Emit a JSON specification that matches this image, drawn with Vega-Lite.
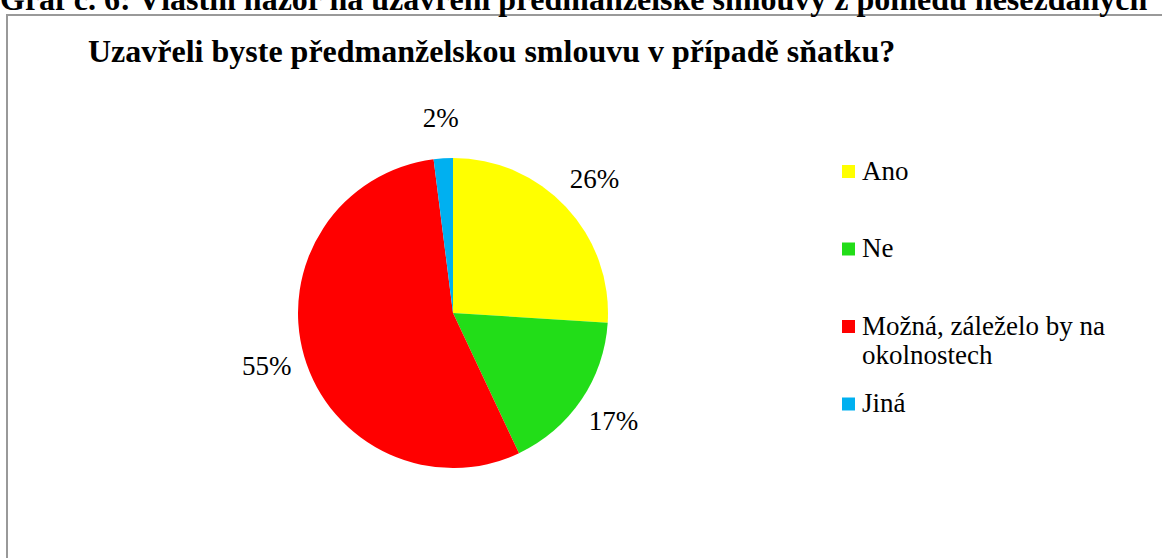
{
  "$schema": "https://vega.github.io/schema/vega-lite/v6.json",
  "padding": {"left": 0, "top": -16, "right": -6, "bottom": -5},
  "background": "white",
  "title": {
    "text": "Graf č. 6: Vlastní názor na uzavření předmanželské smlouvy z pohledu nesezdaných",
    "anchor": "start",
    "frame": "group",
    "dx": -7,
    "offset": -3,
    "font": "Liberation Serif",
    "fontSize": 32,
    "fontWeight": "bold",
    "color": "black",
    "limit": 3000
  },
  "data": {
    "values": [
      {"odpoved": "Ano", "podil": 0.26, "poradi": 1},
      {"odpoved": "Ne", "podil": 0.17, "poradi": 2},
      {"odpoved": "Možná, záleželo by na okolnostech", "podil": 0.55, "poradi": 3},
      {"odpoved": "Jiná", "podil": 0.02, "poradi": 4}
    ]
  },
  "vconcat": [
    {
      "title": {
        "text": "Uzavřeli byste předmanželskou smlouvu v případě sňatku?",
        "anchor": "start",
        "frame": "group",
        "dx": 81,
        "offset": -54,
        "font": "Liberation Serif",
        "fontSize": 32,
        "fontWeight": "bold",
        "color": "black",
        "limit": 3000
      },
      "width": 1160,
      "height": 548,
      "view": {"stroke": "#999999", "strokeWidth": 2, "fill": "white"},
      "encoding": {
        "theta": {"field": "podil", "type": "quantitative", "stack": true},
        "order": {"field": "poradi", "type": "quantitative"}
      },
      "layer": [
        {
          "mark": {"type": "arc", "radius": 155, "x": 446, "y": 298},
          "encoding": {
            "color": {
              "field": "odpoved",
              "type": "nominal",
              "scale": {
                "domain": ["Ano", "Ne", "Možná, záleželo by na okolnostech", "Jiná"],
                "range": ["#FFFF00", "#22DD18", "#FF0000", "#00B0F0"]
              },
              "legend": {
                "title": null,
                "orient": "none",
                "legendX": 828,
                "legendY": 143,
                "padding": 0,
                "symbolType": "square",
                "symbolSize": 169,
                "symbolStrokeWidth": 0,
                "labelOffset": 0,
                "labelFont": "Liberation Serif",
                "labelFontSize": 27,
                "labelColor": "black",
                "labelLineHeight": 31,
                "labelLimit": 500,
                "rowPadding": 20.5,
                "labelExpr": "datum.label === 'Možná, záleželo by na okolnostech' ? ['Možná, záleželo by na', 'okolnostech'] : [datum.label, '']"
              }
            }
          }
        },
        {
          "mark": {
            "type": "text",
            "radius": 194,
            "x": 446,
            "y": 298,
            "font": "Liberation Serif",
            "fontSize": 27,
            "color": "black",
            "align": "center",
            "baseline": "middle"
          },
          "encoding": {
            "text": {"field": "podil", "type": "quantitative", "format": ".0%"}
          }
        }
      ]
    }
  ],
  "config": {
    "view": {"stroke": "#999999", "strokeWidth": 2},
    "concat": {"spacing": 0}
  }
}
